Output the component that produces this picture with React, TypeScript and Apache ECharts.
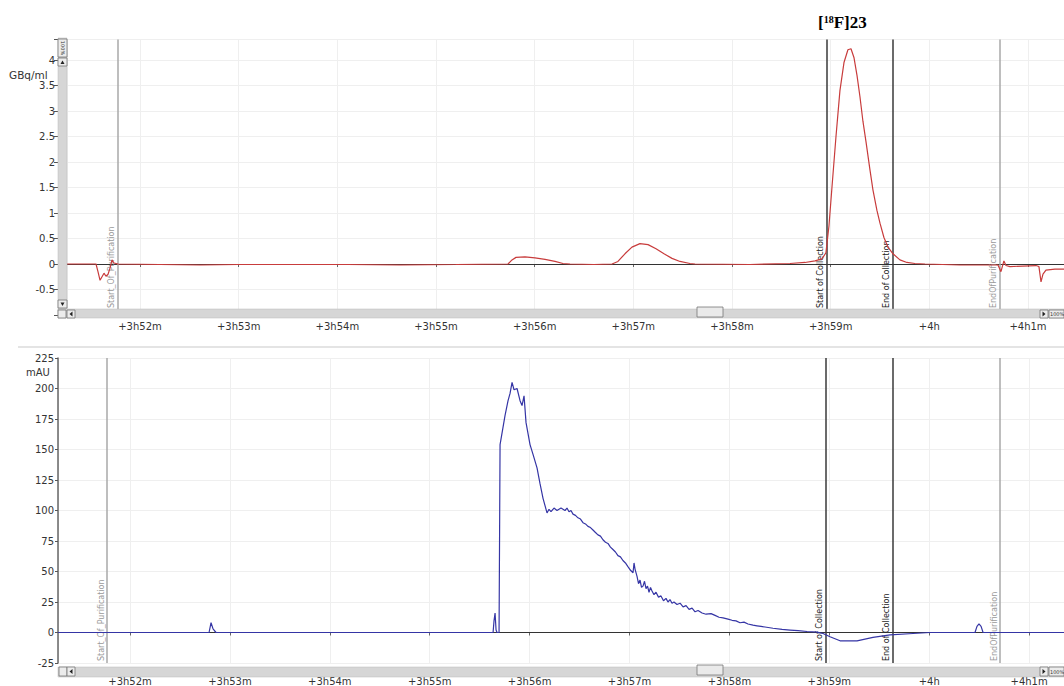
import React, { useEffect, useRef } from 'react';
import * as echarts from 'echarts';

// Time axis: minutes after +3h51m
const topTime = [
  0.26, 0.554, 0.574, 0.595, 0.615, 0.635, 0.655, 0.676, 0.696, 0.716, 0.736, 0.777,
  1.2, 1.61, 2.0, 2.62, 3.1, 3.635, 4.2, 4.73, 4.77, 4.811, 4.902, 5.003, 5.105, 5.206,
  5.287, 5.358, 5.6, 5.784, 5.844, 5.915, 5.986, 6.067, 6.149, 6.23, 6.311, 6.392, 6.473,
  6.574, 6.625, 7.182, 7.588, 7.74, 7.841, 7.912, 7.952, 7.983, 8.013, 8.054, 8.094, 8.135,
  8.175, 8.206, 8.236, 8.267, 8.297, 8.327, 8.358, 8.398, 8.429, 8.469, 8.5, 8.54, 8.581,
  8.632, 8.702, 8.773, 8.854, 8.956, 9.311, 9.696, 9.726, 9.756, 9.777, 9.817, 10.081,
  10.111, 10.132, 10.152, 10.182, 10.273, 10.365,
];
// GBq/ml
const topActivity = [
  0, 0, -0.15, -0.32, -0.25, -0.18, -0.24, -0.2, -0.08, 0.08, 0.02, 0,
  -0.01, -0.02, -0.01, -0.01, -0.01, -0.02, -0.01, 0, 0.08, 0.13, 0.14, 0.12, 0.09, 0.05,
  0.01, 0, -0.01, 0, 0.05, 0.2, 0.33, 0.4, 0.38, 0.3, 0.2, 0.11, 0.05,
  0.01, 0, -0.01, 0.01, 0.03, 0.06, 0.1, 0.22, 0.75, 1.5, 2.5, 3.4, 3.95,
  4.2, 4.22, 4.05, 3.7, 3.28, 2.8, 2.4, 1.85, 1.45, 1.05, 0.8, 0.52, 0.33,
  0.2, 0.08, 0.03, 0.01, 0, -0.02, -0.02, -0.15, 0.06, -0.03, -0.05, -0.03,
  -0.05, -0.35, -0.2, -0.12, -0.1, -0.1,
];

const bottomTime = [
  0.279, 1.791, 1.811, 1.831, 1.861, 4.503, 4.634, 4.644, 4.654, 4.664, 4.674, 4.694,
  4.704, 4.754, 4.784, 4.804, 4.824, 4.844, 4.874, 4.904, 4.924, 4.944, 4.964, 5.004,
  5.034, 5.074, 5.104, 5.134, 5.154, 5.174, 5.194, 5.214, 5.244, 5.274, 5.314, 5.354,
  5.374, 5.394, 5.414, 5.434, 5.459, 5.484, 5.509, 5.534, 5.559, 5.584, 5.609, 5.634,
  5.659, 5.684, 5.709, 5.734, 5.759, 5.784, 5.809, 5.834, 5.859, 5.884, 5.909, 5.934,
  5.959, 5.984, 6.01, 6.035, 6.045, 6.055, 6.075, 6.09, 6.105, 6.12, 6.135, 6.15,
  6.165, 6.18, 6.195, 6.21, 6.225, 6.245, 6.265, 6.29, 6.315, 6.34, 6.365, 6.385,
  6.405, 6.425, 6.445, 6.475, 6.506, 6.536, 6.566, 6.596, 6.626, 6.656, 6.686, 6.726,
  6.766, 6.816, 6.856, 6.896, 6.936, 6.986, 7.026, 7.066, 7.106, 7.146, 7.186, 7.236,
  7.276, 7.316, 7.356, 7.436, 7.527, 7.607, 7.687, 7.777, 7.877, 7.937, 8.007, 8.107,
  8.277, 8.437, 8.608, 8.838, 9.008, 9.458, 9.478, 9.498, 9.519, 9.539, 10.349,
];
// mAU
const bottomUV = [
  0, 0, 8, 3, 0, 0, 0, 10, 16, 2, 0, 0,
  154, 178, 190, 196, 205, 199, 200, 190, 186, 194, 172, 154,
  146, 135, 122, 110, 104, 98, 101, 99, 102, 100, 102, 100,
  102, 99, 100, 97, 96, 94, 93, 90, 89, 87, 86, 84,
  82, 80, 79, 76, 74, 73, 70, 68, 66, 63, 62, 59,
  57, 54, 51, 49, 57, 52, 46, 40, 43, 37, 38, 42,
  36, 38, 33, 37, 34, 31, 33, 29, 30, 26, 28, 25,
  27, 24, 25, 23, 24, 21, 22, 19, 20, 17, 18, 16,
  15, 15.5, 14, 12.5, 12, 11, 10, 9.5, 8, 8.5, 7, 6,
  5.5, 5, 4.5, 3.5, 2.5, 2, 1.5, 0.8, 0.3, -0.8, -3.5, -6.8,
  -6.8, -4, -1.9, -0.8, 0, 0, 5, 7, 5, 0, 0,
];

const markerNames = ['Start_Of_Purification', 'Start of Collection', 'End of Collection', 'EndOfPurification'];
const markerTimes = [0.765, 7.96, 8.63, 9.71];
const markerIsCollection = [false, true, true, false];

const topYMin = -1;
const topYMax = 4.4;
const bottomYMin = -25;
const bottomYMax = 225;

function timeLabel(v: number): string {
  const total = 51 + v;
  const m = Math.round(total);
  if (Math.abs(total - m) > 1e-6) return '';
  if (m < 60) return `+3h${m}m`;
  if (m === 60) return '+4h';
  return `+4h${m - 60}m`;
}

const FONT = 'DejaVu Sans';

function markLineData(along: number) {
  return [
    { yAxis: 0, lineStyle: { color: '#333', width: 1.2, type: 'solid' }, label: { show: false } },
    ...markerTimes.map((t, i) => ({
      xAxis: t,
      name: markerNames[i],
      lineStyle: {
        color: markerIsCollection[i] ? '#3a3a3a' : '#a8a8a8',
        width: 1.5,
        type: 'solid',
      },
      label: {
        show: true,
        formatter: '{b}',
        position: 'insideStartTop',
        color: markerIsCollection[i] ? '#222' : '#9a9a9a',
        fontSize: 8,
        fontFamily: FONT,
        distance: [along, 2],
      },
    })),
  ];
}

export default function App() {
  const ref = useRef<HTMLDivElement>(null);
  useEffect(() => {
    document.body.style.margin = '0';
    if (!ref.current) return;
    const chart = echarts.init(ref.current, null, { renderer: 'svg' });
    const gridLine = { show: true, lineStyle: { color: '#efefef', width: 1 } };
    const xAxisCommon = (min: number, max: number, margin: number) => ({
      type: 'value',
      min,
      max,
      splitNumber: 10,
      minInterval: 1,
      maxInterval: 1,
      axisLine: { show: false },
      axisTick: { show: true, length: 3, lineStyle: { color: '#666' } },
      axisLabel: {
        formatter: timeLabel,
        color: '#333',
        fontSize: 10,
        fontFamily: FONT,
        margin,
        showMinLabel: false,
        showMaxLabel: false,
      },
      splitLine: gridLine,
    });
    const sbFill = '#d6d6d6';
    const btn = (x: number, y: number, w: number, h: number) => ({
      type: 'rect',
      shape: { x, y, width: w, height: h },
      style: { fill: '#ececec', stroke: '#777', lineWidth: 0.8 },
      z: 101,
    });
    const option: any = {
      animation: false,
      backgroundColor: '#fff',
      grid: [
        { left: 67, right: 0, top: 39.6, height: 275.4 },
        { left: 58, right: 0, top: 358, height: 307.8 },
      ],
      xAxis: [
        { ...xAxisCommon(0.26, 10.365, 6), gridIndex: 0 },
        { ...xAxisCommon(0.279, 10.349, 13), gridIndex: 1 },
      ],
      yAxis: [
        {
          type: 'value',
          gridIndex: 0,
          min: topYMin,
          max: topYMax,
          interval: 0.5,
          offset: 9,
          axisLine: { show: false },
          axisTick: { show: true, length: 4, lineStyle: { color: '#555' } },
          axisLabel: {
            color: '#333',
            fontSize: 10,
            fontFamily: FONT,
            margin: 3,
            formatter: (v: number) => {
              if (v < -0.75 || v > 4.01) return '';
              if (Math.abs(v * 2 - Math.round(v * 2)) > 1e-6) return '';
              return String(Math.round(v * 10) / 10);
            },
          },
          splitLine: gridLine,
        },
        {
          type: 'value',
          gridIndex: 1,
          min: bottomYMin,
          max: bottomYMax,
          interval: 25,
          axisLine: { show: true, lineStyle: { color: '#666', width: 1.5 } },
          axisTick: { show: true, length: 3, lineStyle: { color: '#555' } },
          axisLabel: { color: '#333', fontSize: 10, fontFamily: FONT, margin: 4 },
          splitLine: gridLine,
        },
      ],
      series: [
        {
          type: 'line', xAxisIndex: 0, yAxisIndex: 0, data: [], z: 1,
          markLine: { symbol: 'none', silent: true, animation: false, data: markLineData(7) },
        },
        {
          type: 'line', xAxisIndex: 1, yAxisIndex: 1, data: [], z: 1,
          markLine: { symbol: 'none', silent: true, animation: false, data: markLineData(2) },
        },
        {
          type: 'line', xAxisIndex: 0, yAxisIndex: 0, z: 5,
          data: topTime.map((t, i) => [t, topActivity[i]]),
          showSymbol: false, symbol: 'none',
          lineStyle: { color: '#c83c3c', width: 1.2 },
        },
        {
          type: 'line', xAxisIndex: 1, yAxisIndex: 1, z: 5,
          data: bottomTime.map((t, i) => [t, bottomUV[i]]),
          showSymbol: false, symbol: 'none',
          lineStyle: { color: '#3535a5', width: 1.2 },
        },
      ],
      graphic: [
        // title
        {
          type: 'text', left: 818, top: 14, z: 110,
          style: {
            text: '{n|[}{s|18}{n|F]23}',
            rich: {
              n: { fontFamily: 'Liberation Serif', fontWeight: 'bold', fontSize: 17, fill: '#000' },
              s: { fontFamily: 'Liberation Serif', fontWeight: 'bold', fontSize: 10, fill: '#000', verticalAlign: 'top' },
            },
          },
        },
        // units
        { type: 'text', left: 9, top: 69, z: 110, style: { text: 'GBq/ml', fontSize: 10.5, fontFamily: FONT, fill: '#333' } },
        { type: 'text', left: 26, top: 367, z: 110, style: { text: 'mAU', fontSize: 10, fontFamily: FONT, fill: '#333' } },
        // separator
        { type: 'rect', shape: { x: 18, y: 346, width: 1046, height: 2 }, style: { fill: '#e4e4e4' }, z: 100 },
        // top vertical scrollbar
        { type: 'rect', shape: { x: 58, y: 38, width: 9, height: 272 }, style: { fill: sbFill, stroke: '#bbb', lineWidth: 0.5 }, z: 100 },
        btn(58, 39, 9, 18),
        { type: 'text', x: 62.5, y: 48, rotation: -Math.PI / 2, z: 102, style: { text: '100%', fontSize: 5, fontFamily: FONT, fill: '#333', align: 'center', verticalAlign: 'middle' } },
        btn(58, 58, 9, 8),
        { type: 'polygon', shape: { points: [[60.5, 64], [64.5, 64], [62.5, 60.5]] }, style: { fill: '#222' }, z: 102 },
        btn(58, 300, 9, 8),
        { type: 'polygon', shape: { points: [[60.5, 302.5], [64.5, 302.5], [62.5, 306]] }, style: { fill: '#222' }, z: 102 },
        // top horizontal scrollbar
        { type: 'rect', shape: { x: 58, y: 309, width: 1006, height: 9 }, style: { fill: sbFill, stroke: '#bbb', lineWidth: 0.5 }, z: 100 },
        btn(58, 310, 8, 8),
        btn(67, 310, 8, 8),
        { type: 'polygon', shape: { points: [[72.5, 311.5], [72.5, 316.5], [69.5, 314]] }, style: { fill: '#222' }, z: 102 },
        { type: 'rect', shape: { x: 697, y: 307, width: 26, height: 10 }, style: { fill: '#eaeaea', stroke: '#777', lineWidth: 0.8 }, z: 101 },
        btn(1040, 310, 8, 8),
        { type: 'polygon', shape: { points: [[1042.5, 311.5], [1042.5, 316.5], [1045.5, 314]] }, style: { fill: '#222' }, z: 102 },
        btn(1049, 310, 15, 8),
        { type: 'text', x: 1050, y: 314, z: 102, style: { text: '100%', fontSize: 5, fontFamily: FONT, fill: '#333', verticalAlign: 'middle' } },
        // bottom horizontal scrollbar
        { type: 'rect', shape: { x: 58, y: 667, width: 1006, height: 10 }, style: { fill: sbFill, stroke: '#bbb', lineWidth: 0.5 }, z: 100 },
        btn(59, 667, 8, 9),
        btn(67, 667, 8, 9),
        { type: 'polygon', shape: { points: [[72.5, 669], [72.5, 674], [69.5, 671.5]] }, style: { fill: '#222' }, z: 102 },
        { type: 'rect', shape: { x: 697, y: 665, width: 26, height: 10 }, style: { fill: '#eaeaea', stroke: '#777', lineWidth: 0.8 }, z: 101 },
        btn(1040, 667, 8, 9),
        { type: 'polygon', shape: { points: [[1042.5, 669], [1042.5, 674], [1045.5, 671.5]] }, style: { fill: '#222' }, z: 102 },
        btn(1049, 667, 15, 9),
        { type: 'text', x: 1050, y: 671.5, z: 102, style: { text: '100%', fontSize: 5, fontFamily: FONT, fill: '#333', verticalAlign: 'middle' } },
      ],
    };
    chart.setOption(option);
    return () => chart.dispose();
  }, []);
  return <div ref={ref} style={{ position: 'fixed', left: 0, top: 0, width: 1064, height: 686 }} />;
}
